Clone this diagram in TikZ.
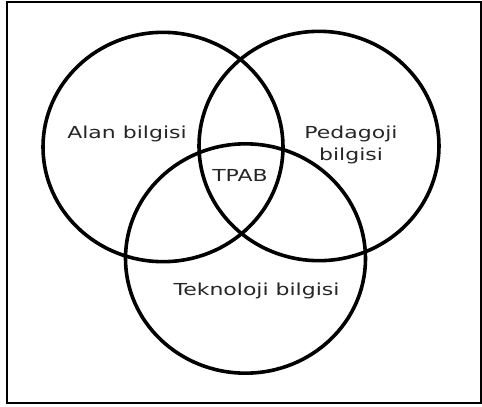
\documentclass[tikz,border=0pt]{standalone}
\usepackage{fontspec}
\usepackage{tikz}
\usetikzlibrary{shapes.geometric}

\newfontfamily\vennfont[FakeStretch=1.33]{DejaVu Sans}

\begin{document}
\begin{tikzpicture}[x=0.75pt,y=-0.75pt,
                    set circle/.style={ellipse,draw,line width=2.7pt,minimum width=180pt,minimum height=172pt,inner sep=0pt},
                    set label/.style={font=\vennfont\fontsize{12.4}{16.3}\selectfont,text=black!85,inner sep=0pt,align=center}]

        \useasboundingbox (0,0) rectangle (482,407);
        \draw[line width=1.5pt] (7,2) rectangle (481,403);

        % the three sets
        \node[set circle] (alan) at (163,147) {};
        \node[set circle] (pedagoji) at (319,146) {};
        \node[set circle] (teknoloji) at (245.5,258.5) {};

        \node[set label,anchor=base] (alanlabel) at (127,138.3) {Alan bilgisi};
        \node[set label] (pedagojilabel) at (351,145) {Pedagoji\\bilgisi};
        \node[set label,anchor=base] (teknolojilabel) at (256.5,295) {Teknoloji bilgisi};
        \node[set label,anchor=base] (tpab) at (240,181) {TPAB};
    \end{tikzpicture}
\end{document}
